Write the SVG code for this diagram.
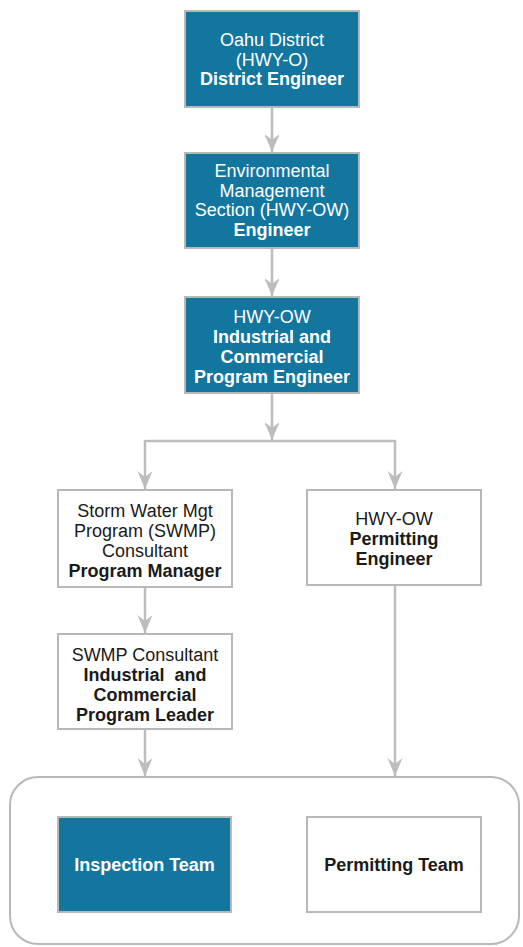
<svg xmlns="http://www.w3.org/2000/svg" width="523" height="947" viewBox="0 0 523 947">
<defs>
<marker id="ah" markerUnits="userSpaceOnUse" markerWidth="20" markerHeight="20" viewBox="-18 -8 20 16" refX="0" refY="0" orient="auto">
<path d="M-18,-7.5 L0,0 L-18,7.5 L-12,0 z" fill="#bdbdbd"/>
</marker>
<style>
.blue{fill:#13769f;stroke:#b8b8b8;stroke-width:2}
.white{fill:#ffffff;stroke:#b8b8b8;stroke-width:2}
.cont{fill:none;stroke:#b8b8b8;stroke-width:2}
.conn{fill:none;stroke:#bdbdbd;stroke-width:2.5}
text{font-family:"Liberation Sans",Arial,sans-serif;font-size:18px;text-anchor:middle;white-space:pre}
.tw{fill:#ffffff}
.td{fill:#1a1a1a}
.b{font-weight:bold}
</style>
</defs>
<rect id="container" class="cont" x="10" y="777" width="509" height="167" rx="28" ry="28"/>
<g id="connectors">
<path class="conn" d="M272,107 L272,152" marker-end="url(#ah)"/>
<path class="conn" d="M272,248 L272,296" marker-end="url(#ah)"/>
<path class="conn" d="M272,393 L272,440" marker-end="url(#ah)"/>
<path class="conn" d="M145,441 L395,441"/>
<path class="conn" d="M145,440 L145,489" marker-end="url(#ah)"/>
<path class="conn" d="M395,440 L395,489" marker-end="url(#ah)"/>
<path class="conn" d="M145,587 L145,633" marker-end="url(#ah)"/>
<path class="conn" d="M145,729 L145,776" marker-end="url(#ah)"/>
<path class="conn" d="M395,585 L395,776" marker-end="url(#ah)"/>
</g>
<g id="oahu-district">
<rect class="blue" x="185" y="11" width="174" height="96"/>
<text class="tw" x="272" y="46">Oahu District</text>
<text class="tw" x="272" y="66">(HWY-O)</text>
<text class="tw b" x="272" y="85">District Engineer</text>
</g>
<g id="env-mgmt">
<rect class="blue" x="185" y="153" width="174" height="95"/>
<text class="tw" x="272" y="177">Environmental</text>
<text class="tw" x="272" y="196.5">Management</text>
<text class="tw" x="272" y="216">Section (HWY-OW)</text>
<text class="tw b" x="272" y="235.5">Engineer</text>
</g>
<g id="ic-engineer">
<rect class="blue" x="185" y="297" width="174" height="96"/>
<text class="tw" x="272" y="323">HWY-OW</text>
<text class="tw b" x="272" y="343">Industrial and</text>
<text class="tw b" x="272" y="363">Commercial</text>
<text class="tw b" x="272" y="383">Program Engineer</text>
</g>
<g id="swmp-manager">
<rect class="white" x="58" y="490" width="174" height="97"/>
<text class="td" x="145" y="517">Storm Water Mgt</text>
<text class="td" x="145" y="537">Program (SWMP)</text>
<text class="td" x="145" y="557">Consultant</text>
<text class="td b" x="145" y="577">Program Manager</text>
</g>
<g id="swmp-leader">
<rect class="white" x="58" y="634" width="174" height="95"/>
<text class="td" x="145" y="661">SWMP Consultant</text>
<text class="td b" x="145" y="681">Industrial  and</text>
<text class="td b" x="145" y="701">Commercial</text>
<text class="td b" x="145" y="721">Program Leader</text>
</g>
<g id="permitting-engineer">
<rect class="white" x="307" y="490" width="174" height="95"/>
<text class="td" x="394" y="525">HWY-OW</text>
<text class="td b" x="394" y="545">Permitting</text>
<text class="td b" x="394" y="565">Engineer</text>
</g>
<g id="inspection-team">
<rect class="blue" x="58" y="817" width="173" height="95"/>
<text class="tw b" x="144.5" y="871">Inspection Team</text>
</g>
<g id="permitting-team">
<rect class="white" x="307" y="817" width="174" height="95"/>
<text class="td b" x="394" y="871">Permitting Team</text>
</g>
</svg>
